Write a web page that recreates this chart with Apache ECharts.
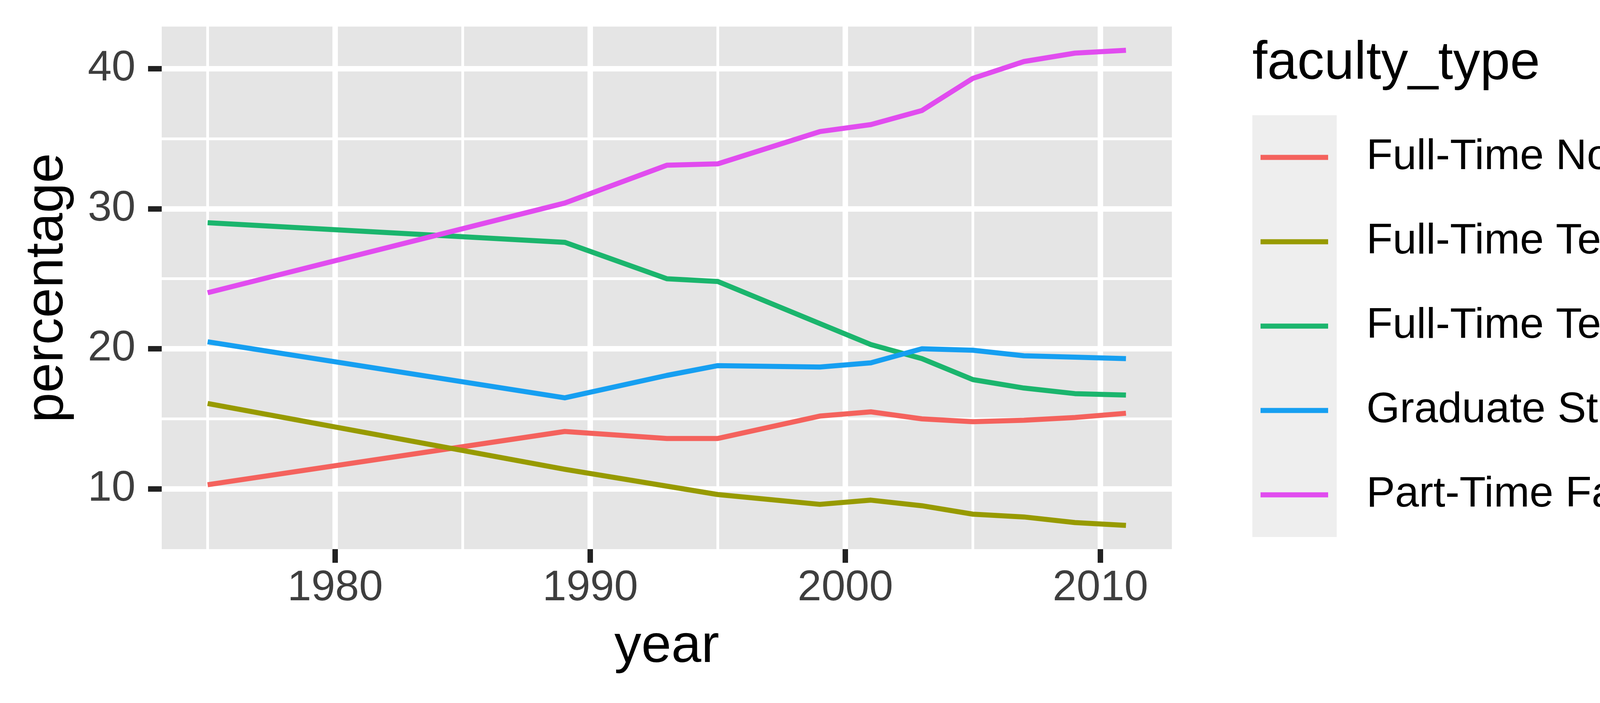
<!DOCTYPE html>
<html>
<head>
<meta charset="utf-8">
<script src="https://cdn.jsdelivr.net/npm/echarts@6/dist/echarts.min.js"></script>
<style>
  html, body { margin: 0; padding: 0; background: #fff; }
  #chart { width: 5400px; height: 1800px; }
</style>
</head>
<body>
<div id="chart"></div>
<script>
const years = [1975, 1989, 1993, 1995, 1999, 2001, 2003, 2005, 2007, 2009, 2011];

const facultyTypes = [
    'Full-Time Non-Tenure-Track Faculty',
    'Full-Time Tenure-Track Faculty',
    'Full-Time Tenured Faculty',
    'Graduate Student Employees',
    'Part-Time Faculty'
];

const nonTenureTrack = [10.3, 14.1, 13.6, 13.6, 15.2, 15.5, 15.0, 14.8, 14.9, 15.1, 15.4];
const tenureTrack = [16.1, 11.4, 10.2, 9.6, 8.9, 9.2, 8.8, 8.2, 8.0, 7.6, 7.4];
const tenured = [29.0, 27.6, 25.0, 24.8, 21.8, 20.3, 19.3, 17.8, 17.2, 16.8, 16.7];
const gradStudents = [20.5, 16.5, 18.1, 18.8, 18.7, 19.0, 20.0, 19.9, 19.5, 19.4, 19.3];
const partTime = [24.0, 30.4, 33.1, 33.2, 35.5, 36.0, 37.0, 39.3, 40.5, 41.1, 41.3];

const xBreaks = [1980, 1990, 2000, 2010];
const xMinorBreaks = [1975, 1985, 1995, 2005];
const yBreaks = [10, 20, 30, 40];
const yMinorBreaks = [15, 25, 35];

const colors = ['#F4625D', '#979A00', '#1BB56D', '#169FF1', '#E14CEF'];
const seriesValues = [nonTenureTrack, tenureTrack, tenured, gradStudents, partTime];

// ggplot-style 5% expansion around the data range
const xMin = 1973.2, xMax = 2012.8;
const yMin = 5.705, yMax = 42.995;

const font = 'Liberation Sans';

function pairs(values) {
    return years.map((y, i) => [y, values[i]]);
}

var chartDom = document.getElementById('chart');
var myChart = echarts.init(chartDom, null, { renderer: 'canvas' });

var option = {
    animation: false,
    backgroundColor: '#ffffff',
    title: {
        text: 'faculty_type',
        left: 3206,
        top: 95,
        padding: 0,
        textStyle: { fontFamily: font, fontSize: 138, fontWeight: 'normal', color: '#000000' }
    },
    graphic: [
        {
            type: 'rect',
            left: 3206,
            top: 295,
            z: -1,
            shape: { width: 216, height: 1080 },
            style: { fill: '#EEEEEE' }
        }
    ],
    legend: {
        orient: 'vertical',
        left: 3227,
        top: 295,
        padding: 0,
        itemGap: 0,
        itemWidth: 173,
        itemHeight: 13,
        icon: 'rect',
        data: facultyTypes,
        textStyle: {
            fontFamily: font,
            fontSize: 110,
            lineHeight: 216,
            color: '#000000',
            padding: [0, 0, 0, 93]
        }
    },
    grid: {
        left: 414,
        top: 68,
        width: 2586,
        height: 1338,
        show: true,
        backgroundColor: '#E5E5E5',
        borderWidth: 0,
        containLabel: false,
        outerBoundsMode: 'none'
    },
    xAxis: [
        {
            type: 'value',
            min: xMin,
            max: xMax,
            name: 'year',
            nameLocation: 'middle',
            nameGap: 182,
            nameTextStyle: { fontFamily: font, fontSize: 138, color: '#000000' },
            axisLine: { show: false },
            axisTick: {
                show: true,
                inside: false,
                length: 35,
                customValues: xBreaks,
                lineStyle: { color: '#222222', width: 14 }
            },
            axisLabel: {
                customValues: xBreaks,
                formatter: (v) => String(v),
                margin: 46,
                fontFamily: font,
                fontSize: 110,
                color: '#3E3E3E'
            },
            splitLine: { show: true, lineStyle: { color: '#ffffff', width: 14 } }
        },
        {
            type: 'value',
            min: xMin,
            max: xMax,
            axisLine: { show: false },
            axisTick: { show: false, customValues: xMinorBreaks },
            axisLabel: { show: false },
            splitLine: { show: true, lineStyle: { color: '#ffffff', width: 7 } }
        }
    ],
    yAxis: [
        {
            type: 'value',
            min: yMin,
            max: yMax,
            name: 'percentage',
            nameLocation: 'middle',
            nameRotate: 90,
            nameGap: 223,
            nameTextStyle: { fontFamily: font, fontSize: 138, color: '#000000' },
            axisLine: { show: false },
            axisTick: {
                show: true,
                inside: false,
                length: 35,
                customValues: yBreaks,
                lineStyle: { color: '#222222', width: 14 }
            },
            axisLabel: {
                customValues: yBreaks,
                formatter: (v) => String(v),
                margin: 67,
                fontFamily: font,
                fontSize: 110,
                color: '#3E3E3E'
            },
            splitLine: { show: true, lineStyle: { color: '#ffffff', width: 14 } }
        },
        {
            type: 'value',
            min: yMin,
            max: yMax,
            axisLine: { show: false },
            axisTick: { show: false, customValues: yMinorBreaks },
            axisLabel: { show: false },
            splitLine: { show: true, lineStyle: { color: '#ffffff', width: 7 } }
        }
    ],
    series: facultyTypes.map((name, i) => ({
        name: name,
        type: 'line',
        xAxisIndex: 0,
        yAxisIndex: 0,
        showSymbol: false,
        symbol: 'none',
        color: colors[i],
        lineStyle: { color: colors[i], width: 13, join: 'round', cap: 'butt' },
        emphasis: { disabled: true },
        data: pairs(seriesValues[i])
    }))
};

option && myChart.setOption(option);
</script>
</body>
</html>
